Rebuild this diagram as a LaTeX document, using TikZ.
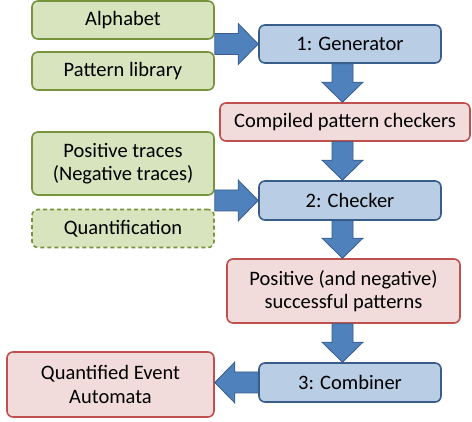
\documentclass[tikz,border=0pt]{standalone}
\usepackage{fontspec}
\setmainfont{Carlito}
\usetikzlibrary{calc}

\definecolor{greenfill}{HTML}{D7E4BD}
\definecolor{greenline}{HTML}{77933C}
\definecolor{bluefill}{HTML}{B9CDE5}
\definecolor{blueline}{HTML}{385D8A}
\definecolor{redfill}{HTML}{F2DCDB}
\definecolor{redline}{HTML}{C0504D}
\definecolor{arrowfill}{HTML}{4F81BD}

\begin{document}
\begin{tikzpicture}[x=1pt, y=-1pt, font=\fontsize{20.5}{23.5}\selectfont,
  box/.style={rounded corners=6pt, line width=1.6pt, inner sep=0pt,
    align=center, minimum height=38pt},
  inputbox/.style={box, draw=greenline, fill=greenfill, minimum width=182pt},
  stagebox/.style={box, draw=blueline, fill=bluefill, minimum width=182pt},
  resultbox/.style={box, draw=redline, fill=redfill},
  blockarrow/.style={fill=arrowfill, draw=blueline, line width=0.8pt, line join=miter}]
  \useasboundingbox (0,0) rectangle (472,422);

  % inputs (green)
  \node[inputbox] (alpha) at (123,20) {Alphabet};
  \node[inputbox] (patlib) at (123,71) {Pattern library};
  \node[inputbox, minimum height=63pt] (traces) at (123,163.5)
    {Positive traces\\(Negative traces)};
  \node[inputbox, dash pattern=on 4pt off 3pt] (quant) at (123,228.5) {Quantification};

  % stages (blue)
  \node[stagebox] (gen) at (350,44) {1: Generator};
  \node[stagebox, minimum height=39pt] (checker) at (350,200.5) {2: Checker};
  \node[stagebox, minimum height=39pt] (comb) at (350,382.5) {3: Combiner};

  % results (red)
  \node[resultbox, minimum width=250pt] (compiled) at (345,122) {Compiled pattern checkers};
  \node[resultbox, minimum width=233pt, minimum height=64pt] (success) at (343.5,291)
    {Positive (and negative)\\successful patterns};
  \node[resultbox, minimum width=207pt, minimum height=65pt] (qea) at (110.5,384.5)
    {Quantified Event\\Automata};

  % arrow end points
  \coordinate (a1s) at (gen.west -| alpha.east);
  \coordinate (a1e) at (gen.west);
  \coordinate (a2s) at ([xshift=-7.5pt]gen.south);
  \coordinate (a2e) at (a2s |- compiled.north);
  \coordinate (a3s) at (a2s |- compiled.south);
  \coordinate (a3e) at (a2s |- checker.north);
  \coordinate (a4s) at (checker.west -| traces.east);
  \coordinate (a4e) at (checker.west);
  \coordinate (a5s) at (a2s |- checker.south);
  \coordinate (a5e) at (a2s |- success.north);
  \coordinate (a6s) at (a2s |- success.south);
  \coordinate (a6e) at (a2s |- comb.north);
  \coordinate (a7s) at (comb.west);
  \coordinate (a7e) at (comb.west -| qea.east);

  % block arrows
  \foreach \from/\to in {a1s/a1e, a2s/a2e, a3s/a3e, a4s/a4e, a5s/a5e, a6s/a6e, a7s/a7e} {
    \coordinate (head) at ($(\to)!20pt!(\from)$);
    \filldraw[blockarrow] ($(\from)!10.5pt!90:(\to)$)
      -- ($(head)!10.5pt!90:(\to)$) -- ($(head)!20.5pt!90:(\to)$)
      -- (\to)
      -- ($(head)!20.5pt!-90:(\to)$) -- ($(head)!10.5pt!-90:(\to)$)
      -- ($(\from)!10.5pt!-90:(\to)$) -- cycle;
  }
\end{tikzpicture}
\end{document}
